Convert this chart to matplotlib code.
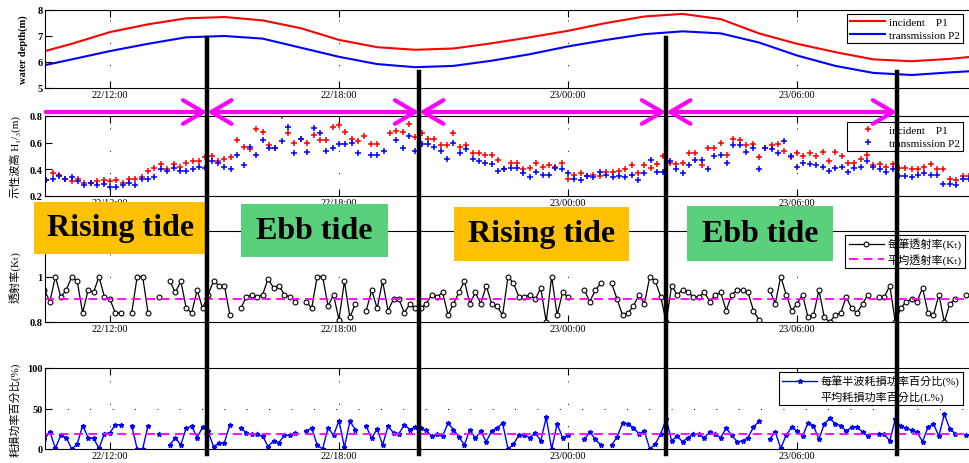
import numpy as np
import matplotlib
matplotlib.use('Agg')
import matplotlib.pyplot as plt
import matplotlib.transforms as mtransforms
from matplotlib.lines import Line2D
from matplotlib.patches import FancyArrowPatch, Rectangle, ArrowStyle

plt.rcParams['font.family'] = ['Liberation Serif', 'Noto Sans CJK TC', 'DejaVu Sans']

nan = np.nan

# time in hours counted from 22/00:00
tick_hours = [12, 18, 24, 30]
tick_labels = ['22/12:00', '22/18:00', '23/00:00', '23/06:00']

# water depth (m), roughly hourly
depth_t = [10.3, 11, 12, 13, 14, 15, 16, 17, 18, 19, 20, 21, 22, 23, 24,
           25, 26, 27, 28, 29, 30, 31, 32, 33, 34, 34.7]
depth_p1 = [6.42, 6.70, 7.15, 7.45, 7.68, 7.73, 7.60, 7.30, 6.85, 6.57, 6.47, 6.52, 6.72,
            6.95, 7.20, 7.50, 7.75, 7.85, 7.65, 7.10, 6.70, 6.38, 6.10, 6.03, 6.12, 6.22]
depth_p2 = [5.88, 6.10, 6.42, 6.70, 6.95, 7.00, 6.90, 6.55, 6.20, 5.92, 5.80, 5.85, 6.05,
            6.30, 6.60, 6.85, 7.07, 7.18, 7.10, 6.75, 6.25, 5.85, 5.58, 5.50, 5.60, 5.66]

# significant wave height H1/3 (m), 10-min records from 22/10:00
hs_p1 = [nan, nan, 0.32, 0.37, 0.36, 0.33,
         0.31, 0.33, 0.30, 0.30, 0.31, 0.32,
         0.31, 0.32, 0.30, 0.33, 0.33, 0.34,
         0.39, 0.41, 0.44, 0.40, 0.44, 0.42,
         0.45, 0.46, 0.46, 0.49, 0.50, 0.46,
         0.48, 0.49, 0.62, 0.57, 0.55, 0.70,
         0.68, 0.58, 0.56, 0.80, 0.67, 0.60,
         0.63, 0.60, 0.66, 0.62, 0.62, 0.72,
         0.73, 0.68, 0.63, 0.61, 0.65, 0.59,
         0.59, nan, 0.67, 0.69, 0.68, 0.74,
         0.64, 0.67, 0.63, 0.63, 0.58, 0.58,
         0.67, 0.57, 0.58, 0.52, 0.52, 0.51,
         0.51, 0.47, 0.40, 0.45, 0.45, 0.40,
         0.41, 0.45, 0.42, 0.43, 0.42, 0.45,
         0.33, 0.36, 0.37, 0.35, 0.36, 0.35,
         0.38, 0.38, 0.39, 0.40, 0.43, 0.37,
         0.43, 0.41, 0.44, 0.50, 0.45, 0.44,
         0.45, 0.52, 0.52, 0.43, 0.56, 0.56,
         0.60, 0.51, 0.63, 0.62, 0.58, 0.59,
         0.49, 0.56, 0.58, 0.59, 0.54, 0.49,
         0.52, 0.50, 0.52, 0.50, 0.53, 0.46,
         0.53, 0.50, 0.45, 0.45, 0.48, 0.51,
         0.43, 0.44, 0.42, 0.44, 0.41, 0.41,
         0.40, 0.40, 0.42, 0.44, 0.40, 0.40,
         0.33, 0.32, 0.35, 0.35, nan, nan]
hs_p2 = [nan, nan, 0.32, 0.33, 0.35, 0.33,
         0.34, 0.31, 0.28, 0.30, 0.28, 0.29,
         0.27, 0.27, 0.28, 0.30, 0.28, 0.33,
         0.33, 0.34, 0.40, 0.39, 0.41, 0.39,
         0.39, 0.40, 0.42, 0.41, 0.46, 0.45,
         0.42, 0.40, 0.51, 0.43, 0.57, 0.51,
         0.62, 0.56, 0.56, 0.61, 0.72, 0.52,
         0.63, 0.53, 0.71, 0.67, 0.54, 0.56,
         0.59, 0.59, 0.60, 0.52, nan, 0.51,
         0.51, 0.54, nan, 0.62, 0.56, 0.65,
         0.54, 0.59, 0.59, 0.57, 0.54, 0.48,
         0.60, 0.52, 0.55, 0.48, 0.46, 0.45,
         0.44, 0.39, 0.40, 0.41, 0.41, 0.37,
         0.34, 0.38, 0.36, 0.36, 0.41, 0.40,
         0.37, 0.33, 0.32, 0.35, 0.34, 0.38,
         0.36, 0.34, 0.35, 0.34, 0.36, 0.32,
         0.37, 0.47, 0.38, 0.38, 0.46, 0.40,
         0.37, 0.43, 0.47, 0.47, 0.40, 0.50,
         0.51, 0.45, 0.58, 0.58, 0.53, 0.56,
         0.40, 0.56, 0.55, 0.52, 0.61, 0.50,
         0.42, 0.45, 0.44, 0.43, 0.42, 0.39,
         0.41, 0.42, 0.38, 0.41, 0.42, 0.46,
         0.42, 0.40, 0.38, 0.40, 0.35, 0.35,
         0.34, 0.36, 0.37, 0.36, 0.36, 0.29,
         0.29, 0.28, 0.33, 0.33, nan, nan]

# transmission coefficient Kt per half-wave record, 7 records per hour from 22/10:00
kt = [nan, nan, 0.94, 0.89, 1.00, 0.91, 0.94,
      1.00, 0.98, 0.84, 0.94, 0.93, 1.00, 0.91,
      0.90, 0.84, 0.84, nan, 0.84, 1.00, 1.00,
      0.84, nan, 0.91, nan, 0.98, 0.93, 0.98,
      0.86, 0.84, 0.94, 0.86, 0.92, 0.98, 0.96,
      0.96, 0.83, nan, 0.86, 0.91, 0.92, 0.91,
      0.92, 0.99, 0.95, 0.96, 0.92, 0.91, 0.89,
      nan, 0.89, 0.86, 1.00, 1.00, 0.87, 0.92,
      0.81, 0.98, 0.82, 0.88, nan, 0.85, 0.94,
      0.86, 0.98, 0.85, 0.90, 0.90, 0.84, 0.88,
      0.86, 0.86, 0.88, 0.92, 0.91, 0.93, 0.83,
      0.88, 0.93, 0.98, 0.88, 0.93, 0.88, 0.96,
      0.88, 0.87, 0.83, 1.00, 0.97, 0.91, 0.91,
      0.92, 0.90, 0.95, 0.80, 1.00, 0.83, 0.93,
      0.91, nan, nan, 0.94, 0.89, 0.94, 0.97,
      nan, 0.97, 0.90, 0.83, 0.84, 0.87, 0.92,
      0.88, 1.00, 0.98, 0.91, 0.80, 0.96, 0.92,
      0.94, 0.93, 0.91, 0.91, 0.93, 0.89, 0.92,
      0.93, 0.85, 0.92, 0.94, 0.94, 0.93, 0.85,
      0.81, nan, 0.94, 0.88, 1.00, 0.92, 0.85,
      0.88, 0.92, 0.82, 0.83, 0.94, 0.82, 0.80,
      0.83, 0.84, 0.91, 0.86, 0.84, 0.88, 0.92,
      nan, 0.91, 0.91, 0.96, 0.80, 0.86, 0.89,
      0.90, 0.89, 0.95, 0.84, 0.83, 0.92, 0.80,
      0.88, 0.90, nan, 0.92, nan, nan, nan]
kt_mean = 0.90

# energy loss percentage per half-wave record (%)
loss = [nan, nan, 12, 21, 1, 17, 14,
        0, 6, 29, 14, 13, 1, 19,
        20, 30, 30, nan, 29, 0, 0,
        29, nan, 18, nan, 5, 14, 5,
        26, 28, 14, 27, 22, 3, 7,
        8, 30, nan, 26, 20, 18, 18,
        16, 3, 10, 8, 17, 17, 20,
        nan, 22, 26, 5, 0, 26, 17,
        35, 2, 34, 24, nan, 28, 13,
        25, 5, 28, 20, 19, 30, 24,
        27, 26, 23, 16, 18, 16, 32,
        24, 15, 5, 24, 13, 22, 9,
        22, 26, 32, 0, 6, 17, 17,
        14, 20, 10, 39, 0, 31, 14,
        17, nan, nan, 12, 21, 12, 5,
        nan, 5, 15, 32, 31, 26, 19,
        22, 0, 6, 19, 37, 10, 16,
        9, 14, 19, 18, 14, 21, 18,
        14, 26, 17, 9, 10, 14, 27,
        34, nan, 12, 21, 1, 17, 27,
        22, 16, 32, 29, 12, 31, 38,
        31, 29, 22, 27, 27, 21, 16,
        nan, 19, 18, 10, 37, 28, 26,
        23, 21, 9, 27, 31, 16, 43,
        25, 19, nan, 17, nan, nan, nan]
loss_mean = 18

# tide turning times (h) and top of the marker lines (water depth, m)
turn_t = [14.55, 20.1, 26.57, 32.62]
turn_top = [6.92, 5.62, 6.92, 5.62]
phases = ['Rising tide', 'Ebb tide', 'Rising tide', 'Ebb tide']
phase_colors = ['#FFC000', '#5BD07C', '#FFC000', '#5BD07C']

t6 = 10 + np.arange(len(hs_p1)) / 6.0
t7 = 10 + np.arange(len(kt)) / 7.0

W_PX, H_PX = 969, 464
fig = plt.figure(figsize=(9.69, 4.64), dpi=100)


def px_axes(top, bottom, left=45, right=975):
    return fig.add_axes([left / W_PX, 1 - bottom / H_PX,
                         (right - left) / W_PX, (bottom - top) / H_PX])


def style(ax, yticks, ylabels, ylim):
    ax.set_xlim(10.3, 34.66)
    ax.set_ylim(*ylim)
    ax.set_xticks(tick_hours)
    ax.set_xticklabels(tick_labels, fontsize=7.5)
    ax.set_yticks(yticks)
    ax.set_yticklabels(ylabels, fontsize=7.5, fontweight='bold')
    ax.tick_params(direction='in', top=True, length=5, width=0.8, pad=1.5)
    for s in ax.spines.values():
        s.set_linewidth(0.8)
    ax.grid(axis='x', linestyle=(0, (1, 22)), color='k', lw=0.7)


def leg(ax, handles, labels, x, y, size=8):
    lg = ax.legend(handles, labels, loc='upper right', bbox_to_anchor=(x / W_PX, 1 - y / H_PX),
                   bbox_transform=fig.transFigure, fancybox=False, edgecolor='black',
                   framealpha=1, fontsize=size, borderaxespad=0, borderpad=0.3,
                   labelspacing=0.25, handlelength=3.2, handletextpad=0.3)
    lg.get_frame().set_linewidth(0.8)
    lg.set_zorder(20)


# panel 1: water depth
ax1 = px_axes(11, 89)
l1, = ax1.plot(depth_t, depth_p1, color='red', lw=1.5)
l2, = ax1.plot(depth_t, depth_p2, color='blue', lw=1.5)
style(ax1, [5, 6, 7, 8], ['5', '6', '7', '8'], (5, 8))
ax1.set_ylabel('water depth(m)', fontsize=7.5, fontweight='bold')
ax1.yaxis.set_label_coords(-0.018, 0.5)
leg(ax1, [l1, l2], ['incident    P1', 'transmission P2'], 963, 15)

# panel 2: wave height
ax2 = px_axes(117, 197)
m1, = ax2.plot(t6, hs_p1, ls='none', marker='+', color='red', ms=5, mew=1.1)
m2, = ax2.plot(t6, hs_p2, ls='none', marker='+', color='blue', ms=5, mew=1.1)
style(ax2, [0.2, 0.4, 0.6, 0.8], ['0.2', '0.4', '0.6', '0.8'], (0.2, 0.8))
ax2.set_ylabel('示性波高 H₁/₃(m)', fontsize=8)
ax2.yaxis.set_label_coords(-0.026, 0.5)
leg(ax2, [m1, m2], ['incident    P1', 'transmission P2'], 963, 123)

# panel 3: transmission coefficient
ax3 = px_axes(232, 323)
k1, = ax3.plot(t7, kt, color='black', lw=0.9, marker='o', ms=3.5, mfc='white', mec='black', mew=0.8)
k2 = ax3.axhline(kt_mean, color='magenta', lw=1.3, ls=(0, (5, 3)))
style(ax3, [0.8, 1.0], ['0.8', '1'], (0.8, 1.2))
ax3.set_ylabel('透射率(Kₜ)', fontsize=8)
ax3.yaxis.set_label_coords(-0.026, 0.5)
leg(ax3, [k1, k2], ['每筆透射率(Kₜ)', '平均透射率(Kₜ)'], 965, 236)

# panel 4: energy loss percentage
ax4 = px_axes(369, 450)
p1, = ax4.plot(t7, loss, color='blue', lw=1.0, marker='*', ms=3.5)
ax4.axhline(loss_mean, color='magenta', lw=1.3, ls=(0, (5, 3)))
style(ax4, [0, 50, 100], ['0', '50', '100'], (0, 100))
ax4.grid(axis='y', linestyle=(0, (1, 22)), color='k', lw=0.7)
ax4.set_ylabel('耗損功率百分比(%)', fontsize=8)
ax4.yaxis.set_label_coords(-0.026, 0.5)
blank = Line2D([], [], ls='none')
leg(ax4, [p1, blank], ['每筆半波耗損功率百分比(%)', '平均耗損功率百分比(L%)'], 963, 373)

# tide turning lines
inv = fig.transFigure.inverted()
for t, top in zip(turn_t, turn_top):
    x0, y0 = inv.transform(ax1.transData.transform((t, top)))
    fig.add_artist(Line2D([x0, x0], [y0, 1 - 455 / H_PX], color='black', lw=3.2,
                          transform=fig.transFigure, zorder=12))

# arrows between turning points
bt = mtransforms.blended_transform_factory(ax1.transData, fig.transFigure)
arrow_y = 1 - 113 / H_PX
segs = [(10.32, turn_t[0], '->')] + [(a, b, '<->') for a, b in zip(turn_t[:-1], turn_t[1:])]
for a, b, st in segs:
    fig.add_artist(FancyArrowPatch((a, arrow_y), (b, arrow_y), transform=bt,
                                   arrowstyle=ArrowStyle(st, head_length=1.45, head_width=0.85),
                                   mutation_scale=10, color='#FF00FF', lw=3,
                                   shrinkA=0, shrinkB=0, zorder=13))

# phase boxes
boxes = [(34, 203, 207, 255), (241, 205, 388, 258), (454, 208, 629, 262), (687, 207, 833, 262)]
for (x0, y0, x1, y1), txt, col in zip(boxes, phases, phase_colors):
    fig.add_artist(Rectangle((x0 / W_PX, 1 - y1 / H_PX), (x1 - x0) / W_PX, (y1 - y0) / H_PX,
                             transform=fig.transFigure, facecolor=col, edgecolor='none', zorder=11))
    fig.text((x0 + x1) / 2 / W_PX, 1 - (y0 + y1) / 2 / H_PX, txt, ha='center', va='center',
             fontsize=23, fontweight='bold', family='Liberation Serif', zorder=14)

fig.savefig('out.png', dpi=100)
